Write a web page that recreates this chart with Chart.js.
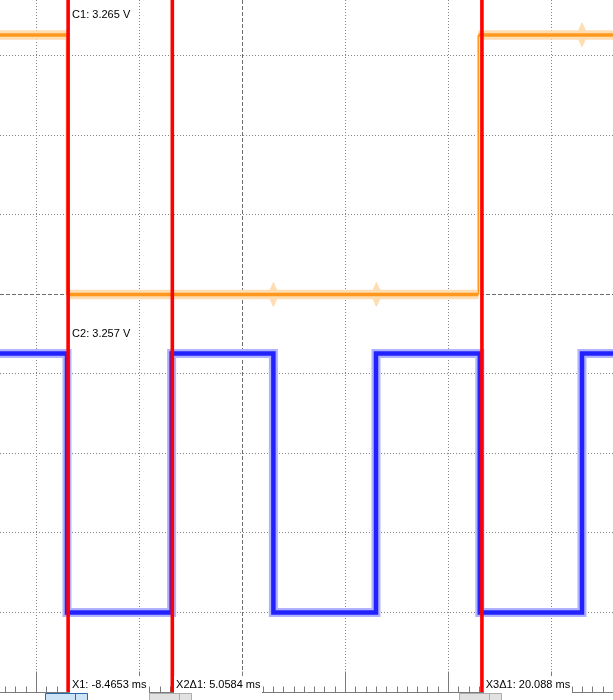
<!DOCTYPE html>
<html>
<head>
<meta charset="utf-8">
<script src="https://cdn.jsdelivr.net/npm/chart.js@4"></script>
<style>
html,body{margin:0;padding:0;background:#fff;}
#wrap{width:613px;height:700px;position:relative;}
canvas{display:block;}
</style>
</head>
<body>
<div id="wrap"><canvas id="c" width="613" height="700"></canvas></div>
<script>
// ---- axis ranges (ms horizontally, divisions vertically, 1 V/div) ----
const X_MIN_MS = -11.772;
const X_MAX_MS = 17.985;
const Y_MIN_DIV = -5;
const Y_MAX_DIV = 3.704;
const X_GRID_MS = [-10, -5, 0, 5, 10, 15];
const Y_GRID_DIV = [-4, -3, -2, -1, 0, 1, 2, 3];
const X_MINOR_STEP_MS = 0.5;

// ---- channel 1 (orange) ----
const C1_EDGES_MS = [-8.52, 11.45];
const C1_LEVELS_V = [3.265, 0.0, 3.265];
const C1_OFFSET_DIV = 0;
const C1_SPIKE_TIMES_MS = [1.50, 6.50, 16.48];
const C1_SPIKE_LEVELS_V = [0.0, 0.0, 3.265];

// ---- channel 2 (blue) ----
const C2_EDGES_MS = [-8.52, -3.44, 1.50, 6.48, 11.52, 16.48];
const C2_LEVELS_V = [3.257, 0.0, 3.257, 0.0, 3.257, 0.0, 3.257];
const C2_OFFSET_DIV = -4;

// ---- cursors ----
const CURSOR_X1_MS = -8.4653;
const CURSOR_DELTAS_MS = [0, 5.0584, 20.088];
const CURSOR_LABELS = ['X1: -8.4653 ms', 'X2\u03941: 5.0584 ms', 'X3\u03941: 20.088 ms'];
const CHANNEL_LABELS = ['C1: 3.265 V', 'C2: 3.257 V'];

function stepSeries(edges, levels, offset) {
  const pts = [{x: X_MIN_MS, y: levels[0] + offset}];
  edges.forEach((t, i) => {
    pts.push({x: t, y: levels[i] + offset});
    pts.push({x: t, y: levels[i + 1] + offset});
  });
  pts.push({x: X_MAX_MS, y: levels[levels.length - 1] + offset});
  return pts;
}

const c1 = stepSeries(C1_EDGES_MS, C1_LEVELS_V, C1_OFFSET_DIV);
const c2 = stepSeries(C2_EDGES_MS, C2_LEVELS_V, C2_OFFSET_DIV);
const cursorTimes = CURSOR_DELTAS_MS.map(d => CURSOR_X1_MS + d);

const ORANGE = 'rgb(255,152,28)';
const ORANGE_PALE = 'rgb(255,221,178)';
const BLUE = 'rgb(34,34,255)';
const BLUE_PALE = 'rgb(176,178,255)';
const RED = 'rgb(255,0,0)';

const base = {pointRadius: 0, tension: 0, fill: false, borderJoinStyle: 'miter', borderCapStyle: 'butt'};
const isVertical = ctx => ctx.p0.parsed.x === ctx.p1.parsed.x;
const datasets = [];

// red cursors (on top)
cursorTimes.forEach(t => {
  datasets.push(Object.assign({}, base, {
    data: [{x: t, y: Y_MIN_DIV}, {x: t, y: Y_MAX_DIV + 1}],
    borderColor: RED, borderWidth: 3.6, order: 0
  }));
});
// main traces
datasets.push(Object.assign({}, base, {data: c2, borderColor: BLUE, borderWidth: 4.5, order: 2}));
datasets.push(Object.assign({}, base, {
  data: c1, borderColor: ORANGE, borderWidth: 3.5, order: 2,
  segment: {borderWidth: ctx => isVertical(ctx) ? 1.3 : undefined}
}));
// pale envelopes
datasets.push(Object.assign({}, base, {data: c2, borderColor: BLUE_PALE, borderWidth: 9, order: 4}));
datasets.push(Object.assign({}, base, {
  data: c1, borderColor: ORANGE_PALE, borderWidth: 9.5, order: 4,
  segment: {borderWidth: ctx => isVertical(ctx) ? 3 : undefined}
}));
// crosstalk spikes on C1 envelope
C1_SPIKE_TIMES_MS.forEach((t, i) => {
  const v = C1_SPIKE_LEVELS_V[i] + C1_OFFSET_DIV;
  const w = 0.26, h = 0.15;
  datasets.push(Object.assign({}, base, {
    data: [{x: t - w, y: v}, {x: t, y: v + h}, {x: t + w, y: v}, {x: t, y: v - h}, {x: t - w, y: v}],
    borderColor: ORANGE_PALE, borderWidth: 1, backgroundColor: ORANGE_PALE,
    fill: 'shape', order: 5
  }));
});

const scopePlugin = {
  id: 'scope',
  beforeDatasetsDraw(chart) {
    const ctx = chart.ctx, xs = chart.scales.x, ys = chart.scales.y, a = chart.chartArea;
    ctx.save();
    ctx.lineWidth = 1;
    X_GRID_MS.forEach(t => {
      const px = Math.round(xs.getPixelForValue(t) - 0.5) + 0.5;
      ctx.strokeStyle = t === 0 ? '#6e6e6e' : '#858585';
      ctx.setLineDash(t === 0 ? [4, 2] : [1, 2]);
      ctx.beginPath(); ctx.moveTo(px, a.top); ctx.lineTo(px, a.bottom); ctx.stroke();
    });
    Y_GRID_DIV.forEach(v => {
      const py = Math.round(ys.getPixelForValue(v) - 0.5) + 0.5;
      ctx.strokeStyle = v === 0 ? '#6e6e6e' : '#858585';
      ctx.setLineDash(v === 0 ? [4, 2] : [1, 2]);
      ctx.beginPath(); ctx.moveTo(a.left, py); ctx.lineTo(a.right, py); ctx.stroke();
    });
    ctx.setLineDash([]);
    const by = Math.round(ys.getPixelForValue(Y_MIN_DIV)) + 0.5;
    ctx.strokeStyle = '#7a7a7a';
    ctx.beginPath(); ctx.moveTo(a.left, by); ctx.lineTo(a.right, by); ctx.stroke();
    const first = Math.ceil(X_MIN_MS / X_MINOR_STEP_MS);
    const last = Math.floor(X_MAX_MS / X_MINOR_STEP_MS);
    for (let k = first; k <= last; k++) {
      const t = k * X_MINOR_STEP_MS;
      const px = Math.round(xs.getPixelForValue(t) - 0.5) + 0.5;
      const major = X_GRID_MS.includes(t);
      ctx.beginPath();
      ctx.moveTo(px, by - (major ? 21 : 6));
      ctx.lineTo(px, by);
      ctx.stroke();
    }
    ctx.restore();
  },
  afterDatasetsDraw(chart) {
    const ctx = chart.ctx, xs = chart.scales.x, ys = chart.scales.y;
    const by = Math.round(ys.getPixelForValue(Y_MIN_DIV));
    ctx.save();
    ctx.font = '11px "Liberation Sans", Arial, sans-serif';
    ctx.textBaseline = 'middle';
    const x1px = xs.getPixelForValue(cursorTimes[0]);
    const highs = [C1_LEVELS_V[0] + C1_OFFSET_DIV, C2_LEVELS_V[0] + C2_OFFSET_DIV];
    CHANNEL_LABELS.forEach((s, i) => {
      ctx.fillStyle = '#000';
      ctx.fillText(s, x1px + 4, ys.getPixelForValue(highs[i]) - 20);
    });
    cursorTimes.forEach((t, i) => {
      const px = xs.getPixelForValue(t);
      const tx = px + 3.8;
      const w = ctx.measureText(CURSOR_LABELS[i]).width;
      ctx.fillStyle = '#fff';
      ctx.fillRect(Math.round(px + 2), by - 16, Math.round(w + 4), 17);
      ctx.fillStyle = '#000';
      ctx.fillText(CURSOR_LABELS[i], tx, by - 7);
    });
    cursorTimes.forEach((t, i) => {
      const px = Math.round(xs.getPixelForValue(t));
      const left = px - 23, right = px + 20, top = by + 1;
      ctx.fillStyle = i === 0 ? '#cde4f7' : '#e1e1e1';
      ctx.strokeStyle = i === 0 ? '#2b6aa8' : '#adadad';
      ctx.lineWidth = 1;
      ctx.fillRect(left, top, right - left, 12);
      ctx.beginPath();
      ctx.moveTo(left + 0.5, top + 12); ctx.lineTo(left + 0.5, top + 0.5);
      ctx.lineTo(right - 0.5, top + 0.5); ctx.lineTo(right - 0.5, top + 12);
      ctx.moveTo(px + 7.5, top); ctx.lineTo(px + 7.5, top + 12);
      ctx.stroke();
    });
    ctx.restore();
  }
};

new Chart(document.getElementById('c'), {
  type: 'line',
  data: {datasets},
  options: {
    responsive: false,
    animation: false,
    layout: {padding: {left: 0, right: 0, top: 0, bottom: 8}},
    plugins: {legend: {display: false}, tooltip: {enabled: false}},
    scales: {
      x: {type: 'linear', min: X_MIN_MS, max: X_MAX_MS, display: false},
      y: {type: 'linear', min: Y_MIN_DIV, max: Y_MAX_DIV, display: false}
    }
  },
  plugins: [scopePlugin]
});
</script>
</body>
</html>
